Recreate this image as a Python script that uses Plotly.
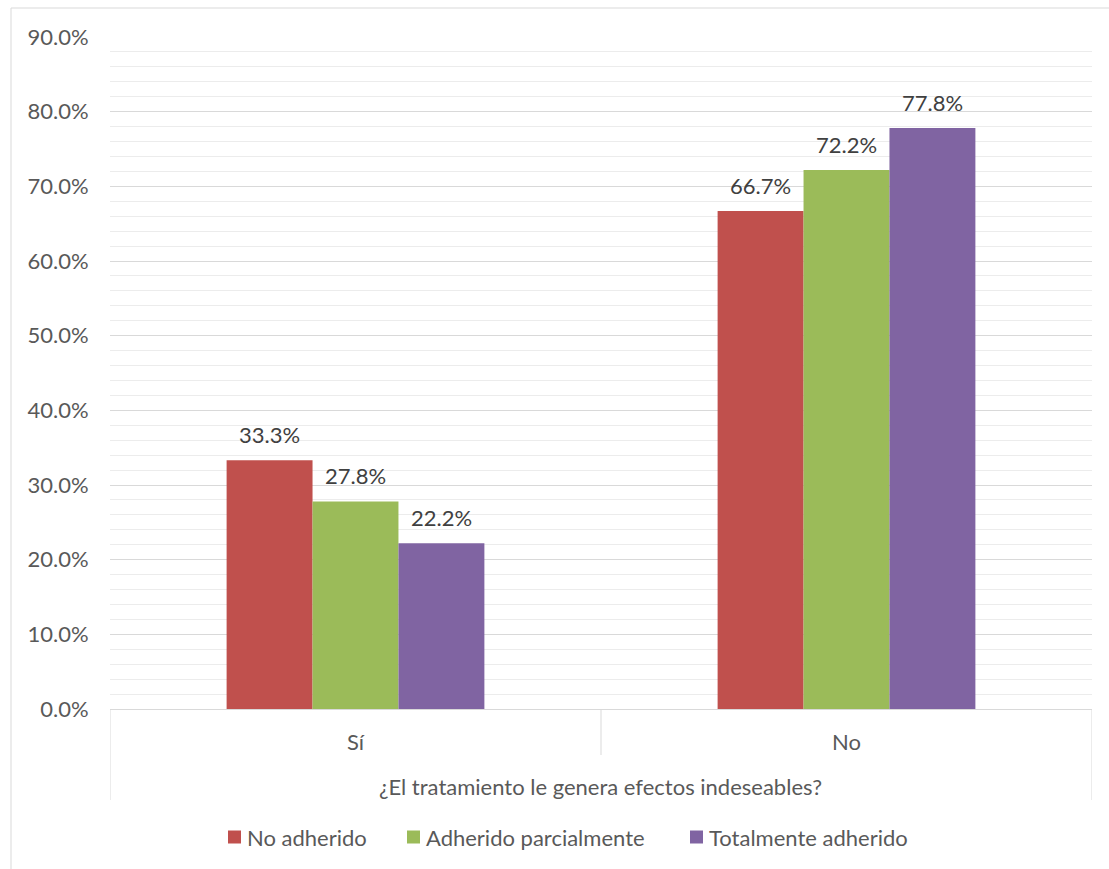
import plotly.graph_objects as go

# Survey answers and the share of each adherence group
categories = ["Sí", "No"]
series_names = ["No adherido", "Adherido parcialmente", "Totalmente adherido"]
no_adherido = [33.3, 66.7]
adherido_parcial = [27.8, 72.2]
totalmente_adherido = [22.2, 77.8]
axis_title = "¿El tratamiento le genera efectos indeseables?"

colors = ["#C0504D", "#9BBB59", "#8064A2"]
text_color = "#595959"
label_color = "#404040"
font_family = "Lato, Carlito, Calibri, sans-serif"
fs = 22

# plot area geometry in pixels (used to place decorations in paper units)
W, H = 1109, 869
L, R, T, B = 110, 17, 37, 160
pw, ph = W - L - R, H - T - B


def px_x(x):
    return (x - L) / pw


def px_y(y):
    return (H - B - y) / ph


bargap = 0.475
cat_px = pw / len(categories)
bar_px = cat_px * (1 - bargap) / len(series_names)

fig = go.Figure()
all_series = [no_adherido, adherido_parcial, totalmente_adherido]
for i, (name, vals, col) in enumerate(zip(series_names, all_series, colors)):
    fig.add_trace(go.Bar(
        x=categories, y=vals, name=name,
        marker=dict(color=col, line=dict(width=0)),
        showlegend=False,
    ))
    # value labels above each bar
    for cat, v in zip(categories, vals):
        fig.add_annotation(
            x=cat, y=v, xref="x", yref="y", text=f"{v:.1f}%",
            showarrow=False, xanchor="center", yanchor="bottom",
            xshift=(i - 1) * bar_px, yshift=10,
            font=dict(size=fs, color=label_color),
        )

fig.update_layout(
    width=W, height=H,
    margin=dict(l=L, r=R, t=T, b=B),
    paper_bgcolor="white", plot_bgcolor="white",
    barmode="group", bargap=bargap, bargroupgap=0,
    font=dict(family=font_family, size=fs, color=text_color),
    showlegend=False,
)

fig.update_yaxes(
    range=[0, 90], dtick=10, tickformat=".1f", ticksuffix="%",
    showgrid=True, gridcolor="#d9d9d9", gridwidth=1,
    minor=dict(dtick=2, showgrid=True, gridcolor="#ececec", gridwidth=1),
    zeroline=False, showline=False,
    ticks="outside", ticklen=16, tickcolor="rgba(0,0,0,0)",
    tickfont=dict(size=fs, color=text_color),
)
fig.update_xaxes(
    type="category", range=[-0.5, 1.5],
    showline=True, linecolor="#d9d9d9", linewidth=1,
    ticks="outside", ticklen=14, tickcolor="rgba(0,0,0,0)",
    tickfont=dict(size=fs, color=text_color),
)

shapes = []
# category divider lines below the axis
for xv, depth in [(-0.5, 800), (0.5, 755), (1.5, 800)]:
    shapes.append(dict(type="line", xref="x", yref="paper",
                       x0=xv, x1=xv, y0=0, y1=px_y(depth),
                       line=dict(color="#d9d9d9", width=1)))
# outer chart frame
shapes.append(dict(type="rect", xref="paper", yref="paper",
                   x0=px_x(11), x1=px_x(1140), y0=px_y(890), y1=px_y(8),
                   line=dict(color="#d9d9d9", width=1), layer="below"))

# legend: coloured square followed by the series name
legend_x = [228, 407, 690]
legend_y = 837
sq = 13
for lx, name, col in zip(legend_x, series_names, colors):
    shapes.append(dict(type="rect", xref="paper", yref="paper",
                       x0=px_x(lx), x1=px_x(lx + sq),
                       y0=px_y(legend_y + sq / 2), y1=px_y(legend_y - sq / 2),
                       fillcolor=col, line=dict(width=0)))
    fig.add_annotation(text=name, xref="paper", yref="paper",
                       x=px_x(lx + sq + 4), y=px_y(legend_y),
                       showarrow=False, xanchor="left", yanchor="middle",
                       font=dict(size=fs, color=text_color))
fig.update_layout(shapes=shapes)

fig.add_annotation(text=axis_title, xref="paper", yref="paper",
                   x=px_x(600), y=px_y(786), showarrow=False,
                   xanchor="center", yanchor="middle",
                   font=dict(size=fs, color=text_color))

fig.write_html("out.html")
